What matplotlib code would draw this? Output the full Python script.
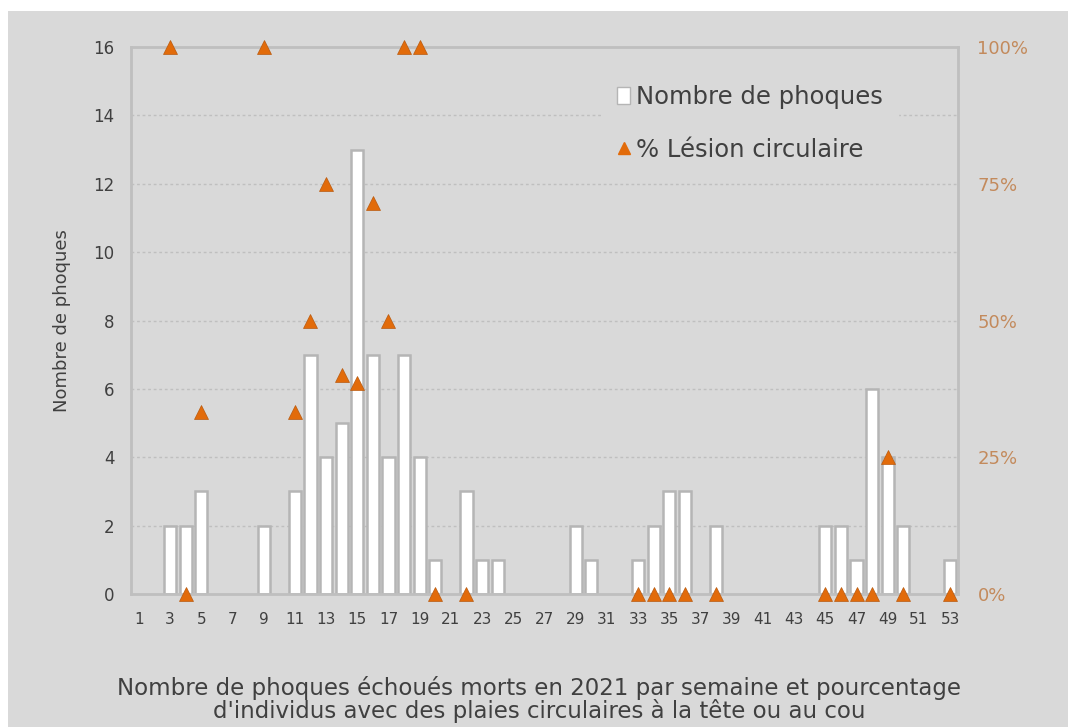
import numpy as np
import matplotlib
matplotlib.use("Agg")
import matplotlib.pyplot as plt
from matplotlib.patches import Rectangle
from matplotlib.lines import Line2D

weeks = list(range(1, 54))

count_weeks = [3, 4, 5, 9, 11, 12, 13, 14, 15, 16, 17, 18, 19, 20, 22, 23, 24,
               29, 30, 33, 34, 35, 36, 38, 45, 46, 47, 48, 49, 50, 53]
counts = [2, 2, 3, 2, 3, 7, 4, 5, 13, 7, 4, 7, 4, 1, 3, 1, 1,
          2, 1, 1, 2, 3, 3, 2, 2, 2, 1, 6, 4, 2, 1]

pct_weeks = [3, 4, 5, 9, 11, 12, 13, 14, 15, 16, 17, 18, 19, 20, 22,
             33, 34, 35, 36, 38, 45, 46, 47, 48, 49, 50, 53]
pct = [100, 0, 33.3, 100, 33.3, 50, 75, 40, 38.5, 71.4, 50, 100, 100, 0, 0,
       0, 0, 0, 0, 0, 0, 0, 0, 0, 25, 0, 0]

bg = "#d9d9d9"
grid_col = "#bfbfbf"
orange = "#e26b0a"
pct_col = "#c38a5c"
text_col = "#404040"

fig = plt.figure(figsize=(10.68, 7.27), dpi=100, facecolor="white")
fig.patches.append(Rectangle((8 / 1068, 0), 1, 716 / 727, transform=fig.transFigure,
                             facecolor=bg, edgecolor="none", zorder=-10))

ax = fig.add_axes([131 / 1068, 133 / 727, 827 / 1068, 547 / 727])
ax.set_facecolor(bg)
ax.bar(count_weeks, counts, width=0.78, color="white", edgecolor="#b5b5b5",
       linewidth=1.8, zorder=2)
ax.set_xlim(0.5, 53.5)
ax.set_ylim(0, 16)
ax.set_yticks(range(0, 17, 2))
ax.set_xticks(range(1, 54, 2))
ax.tick_params(length=0, labelsize=11, colors=text_col, pad=13)
ax.tick_params(axis="y", labelsize=12, pad=12)
for y in range(2, 16, 2):
    ax.axhline(y, color=grid_col, linestyle=(0, (2, 2)), linewidth=1, zorder=1)
for s in ax.spines.values():
    s.set_color(grid_col)
    s.set_linewidth(2)
ax.set_ylabel("Nombre de phoques", fontsize=13, color=text_col, labelpad=16)

ax2 = ax.twinx()
ax2.set_ylim(0, 100)
ax2.set_yticks([0, 25, 50, 75, 100])
ax2.set_yticklabels(["0%", "25%", "50%", "75%", "100%"])
ax2.tick_params(length=0, labelsize=13, colors=pct_col, pad=14)
for s in ax2.spines.values():
    s.set_visible(False)
ax2.plot(pct_weeks, pct, linestyle="none", marker="^", markersize=10,
         color=orange, markeredgecolor="#b85a10", markeredgewidth=0.5,
         clip_on=False, zorder=5)

handles = [Rectangle((0, 0), 1, 1, facecolor="white", edgecolor="#b5b5b5"),
           Line2D([], [], linestyle="none", marker="^", markersize=9, color=orange)]
leg = ax2.legend(handles, ["Nombre de phoques", "% Lésion circulaire"],
                 loc="upper right", bbox_to_anchor=(0.942, 0.98), fontsize=17.5,
                 frameon=True, facecolor=bg, edgecolor=bg, framealpha=1,
                 handlelength=0.55, handletextpad=0.25, labelspacing=1.2,
                 borderpad=0.6)
for t in leg.get_texts():
    t.set_color(text_col)

fig.text(0.505, 0.005,
         "Nombre de phoques échoués morts en 2021 par semaine et pourcentage\n"
         "d'individus avec des plaies circulaires à la tête ou au cou",
         ha="center", va="bottom", fontsize=16.5, color=text_col, linespacing=0.98)

fig.savefig("out.png", dpi=100, facecolor=fig.get_facecolor())
